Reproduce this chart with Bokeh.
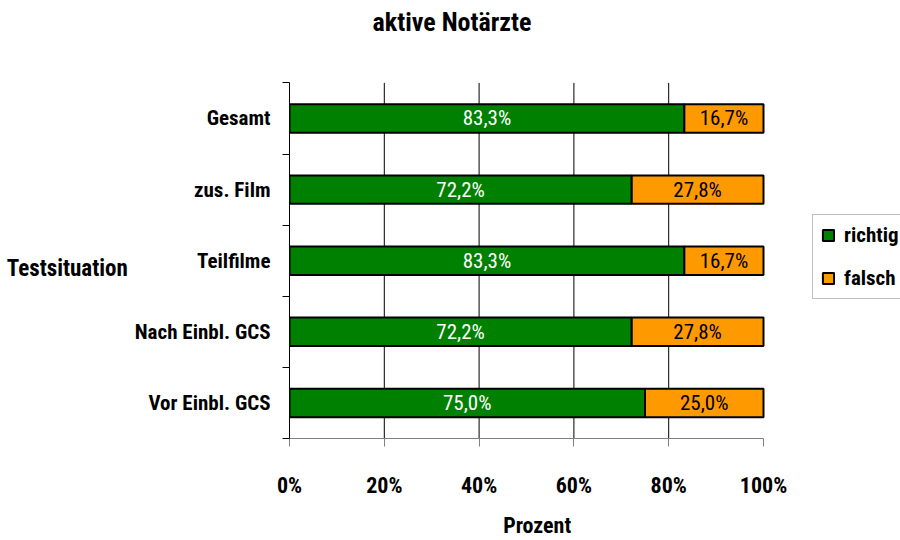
from bokeh.plotting import figure
from bokeh.models import (ColumnDataSource, FixedTicker, PrintfTickFormatter,
                          Range1d, Legend, LegendItem, Label)
from bokeh.core.properties import value
from bokeh.embed import file_html
from bokeh.resources import INLINE

# ---------------- data ----------------
categories = ["Vor Einbl. GCS", "Nach Einbl. GCS", "Teilfilme", "zus. Film", "Gesamt"]
richtig = [75.0, 72.2, 83.3, 72.2, 83.3]
falsch = [25.0, 27.8, 16.7, 27.8, 16.7]
series_names = ["richtig", "falsch"]
series_colors = ["#008000", "#FF9900"]
x_ticks = [0, 20, 40, 60, 80, 100]
grid_ticks = [20, 40, 60, 80]
title_text = "aktive Notärzte"
x_label = "Prozent"
y_label = "Testsituation"

FONT = "'Roboto Condensed', 'Open Sans Condensed', sans-serif"

def fmt(v):
    return f"{v:.1f}".replace(".", ",") + "%"

n_cat = len(categories)
ypos = [i + 0.5 for i in range(n_cat)]
source = ColumnDataSource(dict(
    y=ypos,
    richtig=richtig,
    falsch=falsch,
    r_mid=[r / 2 for r in richtig],
    f_mid=[r + f / 2 for r, f in zip(richtig, falsch)],
    r_txt=[fmt(v) for v in richtig],
    f_txt=[fmt(v) for v in falsch],
))

# ---------------- layout (pixels) ----------------
W, H = 900, 540
LEFT, BOTTOM = 289, 99           # frame starts at x=289, ends at y=441
AXIS_W = 474                     # pixel width of 0..100 %
BAND_H = 71.6                    # pixel height of one category band
frame_w = W - LEFT
frame_h = H - BOTTOM
x_end = 100 * frame_w / AXIS_W
y_end = frame_h / BAND_H

p = figure(width=W, height=H, output_backend="svg", toolbar_location=None, title=None,
           x_range=Range1d(0, x_end), y_range=Range1d(0, y_end),
           min_border_left=LEFT, min_border_right=0,
           min_border_top=0, min_border_bottom=BOTTOM)

p.outline_line_color = None
p.background_fill_color = "white"
p.border_fill_color = "white"
p.xgrid.grid_line_color = None
p.ygrid.grid_line_color = None

# vertical grid lines (only across the category area)
p.segment(x0=grid_ticks, y0=[0] * len(grid_ticks), x1=grid_ticks, y1=[n_cat] * len(grid_ticks),
          line_color="black", line_width=1)

rs = p.hbar_stack(series_names, y="y", height=0.4, source=source,
                  fill_color=series_colors, line_color="black", line_width=2)

p.text(x="r_mid", y="y", text="r_txt", source=source, text_align="center",
       text_baseline="middle", text_color="white", text_font=value(FONT),
       text_font_size="21px")
p.text(x="f_mid", y="y", text="f_txt", source=source, text_align="center",
       text_baseline="middle", text_color="black", text_font=value(FONT),
       text_font_size="21px")

# title
p.add_layout(Label(x=83 * 100 / AXIS_W, y=(frame_h - 22) / BAND_H, text=title_text,
                   text_font=FONT, text_font_size="26px", text_font_style="bold",
                   text_color="black", text_baseline="middle", text_align="left"))

# x axis
xa = p.xaxis[0]
xa.bounds = (0, 100)
xa.ticker = FixedTicker(ticks=x_ticks)
xa.formatter = PrintfTickFormatter(format="%d%%")
xa.axis_line_color = "#808080"
xa.major_tick_line_color = "#808080"
xa.major_tick_out = 8
xa.major_tick_in = 0
xa.minor_tick_line_color = None
xa.major_label_standoff = 26
xa.major_label_text_font = FONT
xa.major_label_text_font_size = "22px"
xa.major_label_text_font_style = "bold"
xa.major_label_text_color = "black"
# trailing em spaces shift the visible label under the 0..100 % part of the axis
xa.axis_label = x_label + "\u2003" * 6
xa.axis_label_standoff = 12
xa.axis_label_text_font = FONT
xa.axis_label_text_font_size = "22px"
xa.axis_label_text_font_style = "bold"
xa.axis_label_text_color = "black"

# y axis
ya = p.yaxis[0]
ya.bounds = (0, n_cat)
ya.ticker = FixedTicker(ticks=ypos, minor_ticks=list(range(n_cat + 1)))
ya.major_label_overrides = {y: c for y, c in zip(ypos, categories)}
ya.axis_line_color = "black"
ya.major_tick_line_color = None
ya.major_tick_out = 0
ya.major_tick_in = 0
ya.minor_tick_line_color = "black"
ya.minor_tick_out = 7
ya.minor_tick_in = 0
ya.major_label_standoff = 12
ya.major_label_text_font = FONT
ya.major_label_text_font_size = "21px"
ya.major_label_text_font_style = "bold"
ya.major_label_text_color = "black"
# leading blank lines move the visible label to the middle of the category area
ya.axis_label = "\n\n\n" + y_label
ya.axis_label_orientation = "horizontal"
ya.axis_label_standoff = 4
ya.axis_label_text_font = FONT
ya.axis_label_text_font_size = "23px"
ya.axis_label_text_font_style = "bold"
ya.axis_label_text_color = "black"

legend = Legend(items=[LegendItem(label=n, renderers=[r]) for n, r in zip(series_names, rs)],
                location=(812 - LEFT, frame_h - 302))
legend.glyph_width = 14
legend.glyph_height = 14
legend.label_standoff = 9
legend.spacing = 19
legend.padding = 8
legend.margin = 0
legend.label_text_font = FONT
legend.label_text_font_size = "21px"
legend.label_text_font_style = "bold"
legend.label_text_color = "black"
legend.border_line_color = "#808080"
legend.border_line_width = 1
legend.background_fill_color = "white"
legend.background_fill_alpha = 1
p.add_layout(legend, "center")

open("out.html", "w").write(file_html(p, INLINE))
